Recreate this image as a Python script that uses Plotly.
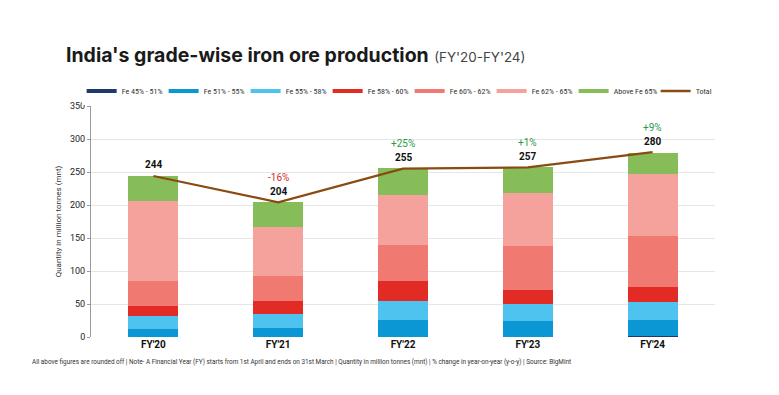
import plotly.graph_objects as go

categories = ["FY'20", "FY'21", "FY'22", "FY'23", "FY'24"]
series_names = ["Fe 45% - 51%", "Fe 51% - 55%", "Fe 55% - 58%", "Fe 58% - 60%",
                "Fe 60% - 62%", "Fe 62% - 65%", "Above Fe 65%"]
fe_45_51 = [0.5, 0.3, 0.5, 0.5, 1.5]
fe_51_55 = [11, 14, 26, 23, 25]
fe_55_58 = [20, 20, 28, 27, 26]
fe_58_60 = [15, 20, 30, 20, 23]
fe_60_62 = [39, 38, 55, 68, 77]
fe_62_65 = [120, 74, 75, 79, 94]
above_65 = [39, 38, 41, 40, 33]
totals = [244, 204, 255, 257, 280]
pct_change = ["", "-16%", "+25%", "+1%", "+9%"]

colors = ["#1D3A6B", "#0B97D4", "#4EC3EF", "#E32B25", "#F07A71", "#F4A29B", "#86BD58"]
total_color = "#8A4B12"

series_values = [fe_45_51, fe_51_55, fe_55_58, fe_58_60, fe_60_62, fe_62_65, above_65]

fig = go.Figure()
for name, vals, col in zip(series_names, series_values, colors):
    fig.add_trace(go.Bar(x=categories, y=vals, name=name, marker_color=col,
                         marker_line_width=0, width=0.4, showlegend=False))

fig.add_trace(go.Scatter(x=categories, y=totals, mode="lines", name="Total",
                         line=dict(color=total_color, width=2.2), showlegend=False))

# legend proxies (line-style swatches)
for name, col in zip(series_names + ["Total"], colors + [total_color]):
    fig.add_trace(go.Scatter(x=[None], y=[None], mode="lines", name=name,
                             line=dict(color=col, width=4 if name != "Total" else 2.5)))

for cat, tot, pc in zip(categories, totals, pct_change):
    fig.add_annotation(x=cat, y=tot, text=f"<b>{tot}</b>", showarrow=False,
                       yshift=11, font=dict(size=10, color="#111111"))
    if pc:
        pc_color = "#D2302C" if pc.startswith("-") else "#2E9A47"
        fig.add_annotation(x=cat, y=tot, text=pc, showarrow=False,
                           yshift=25, font=dict(size=10, color=pc_color))

fig.add_annotation(xref="paper", yref="paper", x=-0.043, y=1.22, xanchor="left", yanchor="middle",
                   text="<b>India's grade-wise iron ore production</b> <span style='font-size:13.4px;color:#444444'>(FY'20-FY'24)</span>",
                   showarrow=False, font=dict(size=19.5, color="#1a1a1a", family="Inter, Roboto, sans-serif"))

fig.add_annotation(xref="paper", yref="paper", x=-0.062, y=0.5, textangle=-90,
                   text="Quantity in million tonnes (mnt)", showarrow=False,
                   font=dict(size=8, color="#333333"))

fig.add_annotation(xref="paper", yref="paper", x=-0.097, y=-0.108, xanchor="left", yanchor="middle",
                   text="All above figures are rounded off | Note- A Financial Year (FY) starts from 1st April and ends on 31st March | Quantity in million tonnes (mnt) | % change in year-on-year (y-o-y) | Source: BigMint",
                   showarrow=False, font=dict(size=6.4, color="#333333"))

fig.update_layout(
    width=779, height=395,
    barmode="stack",
    bargap=0.6,
    plot_bgcolor="white", paper_bgcolor="white",
    margin=dict(l=83, r=72, t=98, b=66),
    font=dict(family="Roboto, Liberation Sans, sans-serif", color="#222222"),
    legend=dict(orientation="h", x=-0.015, y=1.065, xanchor="left", yanchor="middle",
                font=dict(size=8, color="#333333", family="Liberation Sans Narrow, Roboto Condensed, Roboto, sans-serif"),
                itemwidth=30, tracegroupgap=0,
                traceorder="normal", entrywidth=37, entrywidthmode="pixels"),
    xaxis=dict(showline=False, ticks="", tickfont=dict(size=10, color="#111111"),
               tickprefix="<b>", ticksuffix="</b>"),
    yaxis=dict(range=[0, 350], dtick=50, showgrid=True, gridcolor="#E6E6E6",
               showline=True, linecolor="#9A9A9A", linewidth=1,
               ticks="outside", ticklen=3, tickcolor="#9A9A9A",
               tickfont=dict(size=9, color="#222222"), zeroline=False),
)

fig.write_html("out.html")
